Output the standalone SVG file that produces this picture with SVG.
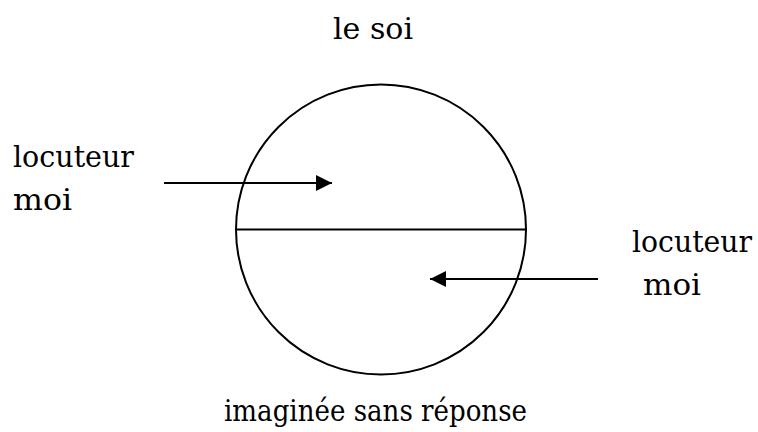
<svg xmlns="http://www.w3.org/2000/svg" width="758" height="432" viewBox="0 0 758 432">
<style>
.t{font-family:'DejaVu Serif',serif;font-size:29px;fill:#000}
.s{fill:none;stroke:#000;stroke-width:2}
</style>
<defs>
<marker id="ah" markerWidth="16" markerHeight="16" viewBox="0 0 16 16" refX="16" refY="8" orient="auto" markerUnits="userSpaceOnUse">
<path d="M0,0 L16,8 L0,16 Z" fill="#000"/>
</marker>
</defs>
<rect width="758" height="432" fill="#fff"/>
<g id="circle">
<circle class="s" cx="381" cy="229.5" r="145"/>
<line class="s" x1="236" y1="229.5" x2="526" y2="229.5"/>
</g>
<g id="connectors">
<line class="s" x1="164" y1="183" x2="332" y2="183" marker-end="url(#ah)"/>
<line class="s" x1="598" y1="279" x2="430" y2="279" marker-end="url(#ah)"/>
</g>
<g id="title"><text class="t" x="333" y="39" textLength="80" lengthAdjust="spacingAndGlyphs">le soi</text></g>
<g id="left-label"><text class="t" x="13" y="167" textLength="121" lengthAdjust="spacingAndGlyphs">locuteur</text><text class="t" x="13" y="210" textLength="59" lengthAdjust="spacingAndGlyphs">moi</text></g>
<g id="right-label"><text class="t" x="632" y="252" textLength="120" lengthAdjust="spacingAndGlyphs">locuteur</text><text class="t" x="643" y="295" textLength="58" lengthAdjust="spacingAndGlyphs">moi</text></g>
<g id="bottom"><text class="t" x="224" y="421" textLength="303" lengthAdjust="spacingAndGlyphs">imaginée sans réponse</text></g>
</svg>
